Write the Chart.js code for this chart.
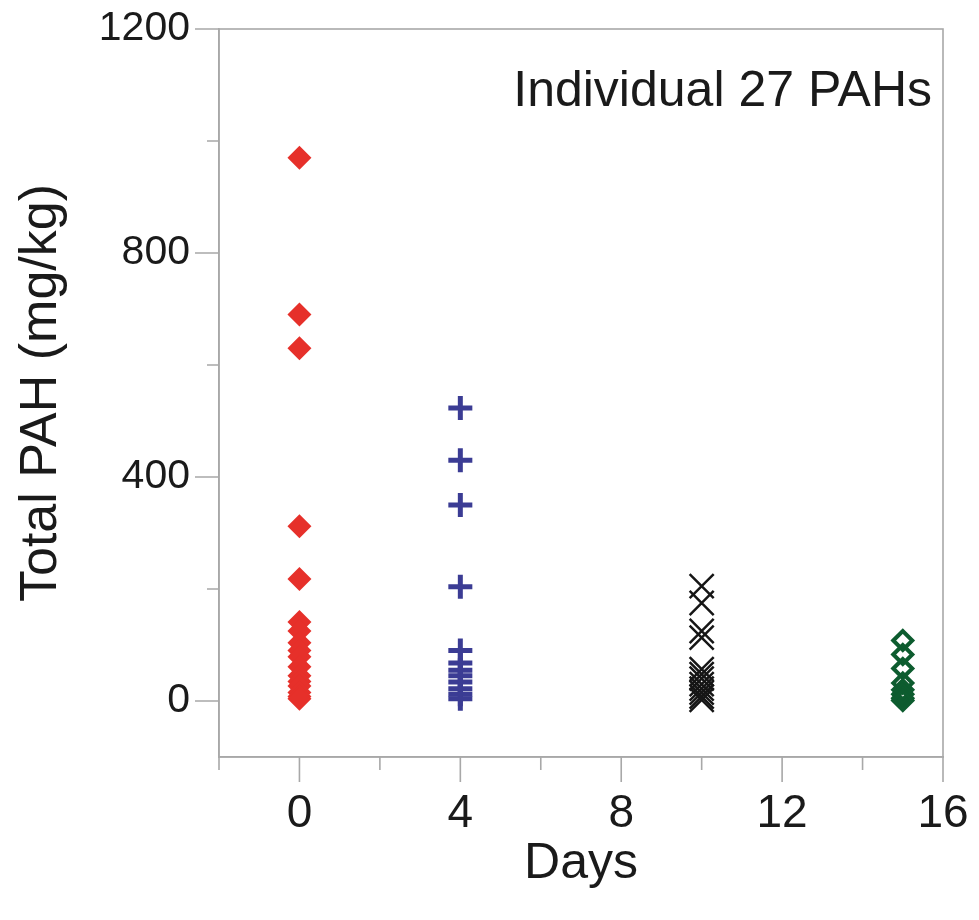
<!DOCTYPE html>
<html>
<head>
<meta charset="utf-8">
<script src="https://cdn.jsdelivr.net/npm/chart.js@4.4.0/dist/chart.umd.min.js"></script>
<style>
  html, body { margin: 0; padding: 0; background: #ffffff; }
  #wrap { width: 979px; height: 920px; }
</style>
</head>
<body>
<div id="wrap"><canvas id="chart" width="979" height="920"></canvas></div>
<script>
// Sampling days for each group of measurements
const dayRed = 0;
const dayBlue = 4;
const dayBlack = 10;
const dayGreen = 15;

// Total PAH (mg/kg) per sample
const valuesDay0 = [970, 690, 630, 312, 218, 141, 125, 104, 90, 79, 61, 45, 35, 27, 15, 8, 4];
const valuesDay4 = [523, 430, 350, 204, 90, 68, 55, 45, 34, 22, 12, 4];
const valuesDay10 = [205, 175, 125, 113, 57, 48, 40, 30, 22, 15, 8, 2];
const valuesDay15 = [108, 83, 58, 32, 20, 12, 5, 1];

// Axis ticks
const xMajorTicks = [0, 4, 8, 12, 16];
const xMinorTicks = [-2, 2, 6, 10, 14];
const yMajorTicks = [0, 400, 800, 1200];
const yMinorTicks = [200, 600, 1000];

const FONT = "'Liberation Sans', Arial, Helvetica, sans-serif";
const FRAME = '#a8a8a8';
const INK = '#1a1a1a';

const toPoints = (day, vals) => vals.map(v => ({ x: day, y: v }));

// Keep the plot box exactly where the layout padding puts it
const noLabelOverflow = s => {
  s.paddingTop = 0; s.paddingBottom = 0; s.paddingLeft = 0; s.paddingRight = 0;
};

// Box frame, outward major/minor tick marks and the in-plot caption
const frameAndTicks = {
  id: 'frameAndTicks',
  afterDraw(chart) {
    const { ctx, chartArea: a, scales } = chart;
    ctx.save();
    ctx.strokeStyle = FRAME;
    ctx.lineWidth = 1.6;
    ctx.strokeRect(a.left, a.top, a.right - a.left, a.bottom - a.top);
    ctx.beginPath();
    xMajorTicks.forEach(v => {
      const p = scales.x.getPixelForValue(v);
      ctx.moveTo(p, a.bottom); ctx.lineTo(p, a.bottom + 25);
    });
    xMinorTicks.forEach(v => {
      const p = scales.x.getPixelForValue(v);
      ctx.moveTo(p, a.bottom); ctx.lineTo(p, a.bottom + 13);
    });
    yMajorTicks.forEach(v => {
      const p = scales.y.getPixelForValue(v);
      ctx.moveTo(a.left, p); ctx.lineTo(a.left - 24, p);
    });
    yMinorTicks.forEach(v => {
      const p = scales.y.getPixelForValue(v);
      ctx.moveTo(a.left, p); ctx.lineTo(a.left - 12, p);
    });
    ctx.stroke();

    ctx.fillStyle = INK;
    ctx.font = '50px ' + FONT;
    ctx.textAlign = 'right';
    ctx.textBaseline = 'alphabetic';
    ctx.fillText('Individual 27 PAHs', a.right - 11, 106);
    ctx.restore();
  }
};

new Chart(document.getElementById('chart'), {
  type: 'scatter',
  data: {
    datasets: [
      {
        data: toPoints(dayRed, valuesDay0),
        pointStyle: 'rectRot', pointRadius: 12, pointBorderWidth: 0,
        backgroundColor: '#e6302a', borderColor: '#e6302a'
      },
      {
        data: toPoints(dayBlue, valuesDay4),
        pointStyle: 'cross', pointRadius: 12, pointBorderWidth: 5,
        backgroundColor: '#3b3c94', borderColor: '#3b3c94'
      },
      {
        data: toPoints(dayBlack, valuesDay10),
        pointStyle: 'crossRot', pointRadius: 17, pointBorderWidth: 2.5,
        backgroundColor: '#161616', borderColor: '#161616'
      },
      {
        data: toPoints(dayGreen, valuesDay15),
        pointStyle: 'rectRot', pointRadius: 9.5, pointBorderWidth: 4,
        backgroundColor: 'rgba(0,0,0,0)', borderColor: '#0d5c2f'
      }
    ]
  },
  options: {
    responsive: false,
    animation: false,
    events: [],
    layout: { padding: { top: 29, right: 36, left: 0, bottom: 0 } },
    plugins: { legend: { display: false }, tooltip: { enabled: false } },
    scales: {
      x: {
        type: 'linear',
        min: -2, max: 16,
        afterBuildTicks: s => { s.ticks = xMajorTicks.map(v => ({ value: v })); },
        afterFit: s => { s.height = 163; noLabelOverflow(s); },
        grid: { drawOnChartArea: false, drawTicks: false },
        border: { display: true, color: FRAME, width: 1.6 },
        ticks: { color: INK, font: { family: FONT, size: 46 }, padding: 30, callback: v => String(v) },
        title: {
          display: true, text: 'Days', color: INK,
          font: { family: FONT, size: 50 }, padding: { top: 0, bottom: 26 }
        }
      },
      y: {
        type: 'linear',
        min: -100, max: 1200,
        afterBuildTicks: s => { s.ticks = yMajorTicks.map(v => ({ value: v })); },
        afterFit: s => { s.width = 219; noLabelOverflow(s); },
        grid: { drawOnChartArea: false, drawTicks: false },
        border: { display: true, color: FRAME, width: 1.6 },
        ticks: { color: INK, font: { family: FONT, size: 41 }, padding: 29, callback: v => String(v) },
        title: {
          display: true, text: 'Total PAH (mg/kg)', color: INK,
          font: { family: FONT, size: 52 }, padding: { top: 10, bottom: 0 }
        }
      }
    }
  },
  plugins: [frameAndTicks]
});
</script>
</body>
</html>
